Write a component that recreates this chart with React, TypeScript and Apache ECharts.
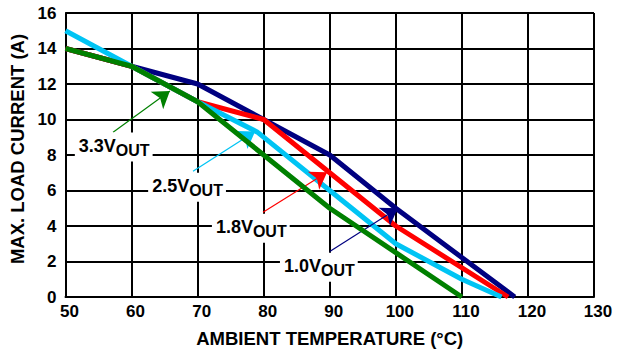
import React, { useEffect, useRef } from "react";
import * as echarts from "echarts";

// Curves: ambient temperature (°C) vs max. load current (A)
const navyX = [50, 60, 70, 80, 90, 100, 118];
const navyY = [14, 13, 12, 10, 8, 5, 0];
const redX = [50, 60, 70, 80, 90, 100, 117];
const redY = [14, 13, 11, 10, 7, 4, 0];
const cyanX = [50, 60, 70, 79, 90, 100, 110, 116];
const cyanY = [15, 13, 11, 9.3, 6, 3, 1, 0];
const greenX = [50, 60, 70, 80, 90, 100, 110];
const greenY = [14, 13, 11, 8, 5, 2.5, 0];

const seriesNames = ["1.0V", "1.8V", "2.5V", "3.3V"];
// annotation anchors in data units
const labelPos = [
  [88.35, 1.67],
  [78.05, 3.87],
  [68.4, 6.18],
  [57.3, 8.45],
];
const arrowFrom = [
  [90.0, 2.57],
  [79.9, 4.77],
  [69.3, 7.08],
  [57.2, 9.28],
];
const arrowTo = [
  [100.3, 5.0],
  [89.6, 7.03],
  [78.7, 9.33],
  [65.8, 11.6],
];

const xTicks = { min: 50, max: 130, interval: 10 };
const yTicks = { min: 0, max: 16, interval: 2 };

const FONT = 'Arial, "Liberation Sans", sans-serif';
const COLORS = ["#000080", "#ff0000", "#00c4f4", "#008000"];

export default function App() {
  const ref = useRef<HTMLDivElement>(null);
  useEffect(() => {
    if (!ref.current) return;
    const chart = echarts.init(ref.current, undefined, { renderer: "svg" });
    const xs = [navyX, redX, cyanX, greenX];
    const ys = [navyY, redY, cyanY, greenY];
    const series = seriesNames.map((name, i) => ({
      type: "line",
      name,
      data: xs[i].map((x, j) => [x, ys[i][j]]),
      showSymbol: false,
      symbol: "none",
      lineStyle: { color: COLORS[i], width: 5 },
      itemStyle: { color: COLORS[i] },
      z: 2 + i,
      markLine: {
        silent: true,
        symbol: ["none", "arrow"],
        symbolSize: 16,
        lineStyle: { color: COLORS[i], width: 1.2, type: "solid" },
        label: { show: false },
        emphasis: { disabled: true },
        data: [[{ coord: arrowFrom[i] }, { coord: arrowTo[i] }]],
      },
      markPoint: {
        silent: true,
        symbol: "rect",
        symbolSize: 1,
        itemStyle: { color: "rgba(0,0,0,0)" },
        label: {
          show: true,
          position: "inside",
          formatter: `{a|${name}}{b|OUT}`,
          backgroundColor: "#ffffff",
          padding: [4, 3, 3, 4],
          rich: {
            a: {
              fontSize: 18,
              fontWeight: "bold",
              fontFamily: FONT,
              color: "#000",
              lineHeight: 22,
              verticalAlign: "top",
            },
            b: {
              fontSize: 16,
              fontWeight: "bold",
              fontFamily: FONT,
              color: "#000",
              lineHeight: 12,
              verticalAlign: "bottom",
            },
          },
        },
        data: [{ coord: labelPos[i] }],
      },
    }));
    chart.setOption({
      animation: false,
      grid: {
        left: 65.5,
        right: 29,
        top: 13,
        bottom: 52,
        containLabel: false,
        outerBoundsMode: "none",
      },
      xAxis: {
        type: "value",
        min: xTicks.min,
        max: xTicks.max,
        interval: xTicks.interval,
        name: "AMBIENT TEMPERATURE (°C)",
        nameLocation: "middle",
        nameGap: 32,
        nameTextStyle: { fontSize: 18.5, fontWeight: "bold", fontFamily: FONT, color: "#000" },
        axisLine: { show: true, lineStyle: { color: "#000", width: 2 } },
        axisTick: { show: false },
        axisLabel: { fontSize: 17, fontWeight: "bold", fontFamily: FONT, color: "#000", margin: 6, padding: [0, 0, 0, 8] },
        splitLine: { show: true, lineStyle: { color: "#000", width: 2 } },
      },
      yAxis: {
        type: "value",
        min: yTicks.min,
        max: yTicks.max,
        interval: yTicks.interval,
        name: "MAX. LOAD CURRENT (A)",
        nameLocation: "middle",
        nameGap: 28,
        nameTextStyle: { fontSize: 18.5, fontWeight: "bold", fontFamily: FONT, color: "#000", padding: [0, 0, 0, 12] },
        axisLine: { show: true, lineStyle: { color: "#000", width: 2 } },
        axisTick: { show: false },
        axisLabel: { fontSize: 17, fontWeight: "bold", fontFamily: FONT, color: "#000", margin: 9 },
        splitLine: { show: true, lineStyle: { color: "#000", width: 2 } },
      },
      series,
    });
    return () => chart.dispose();
  }, []);
  return (
    <div
      ref={ref}
      style={{ position: "fixed", left: 0, top: 0, width: 623, height: 349, background: "#fff" }}
    />
  );
}
